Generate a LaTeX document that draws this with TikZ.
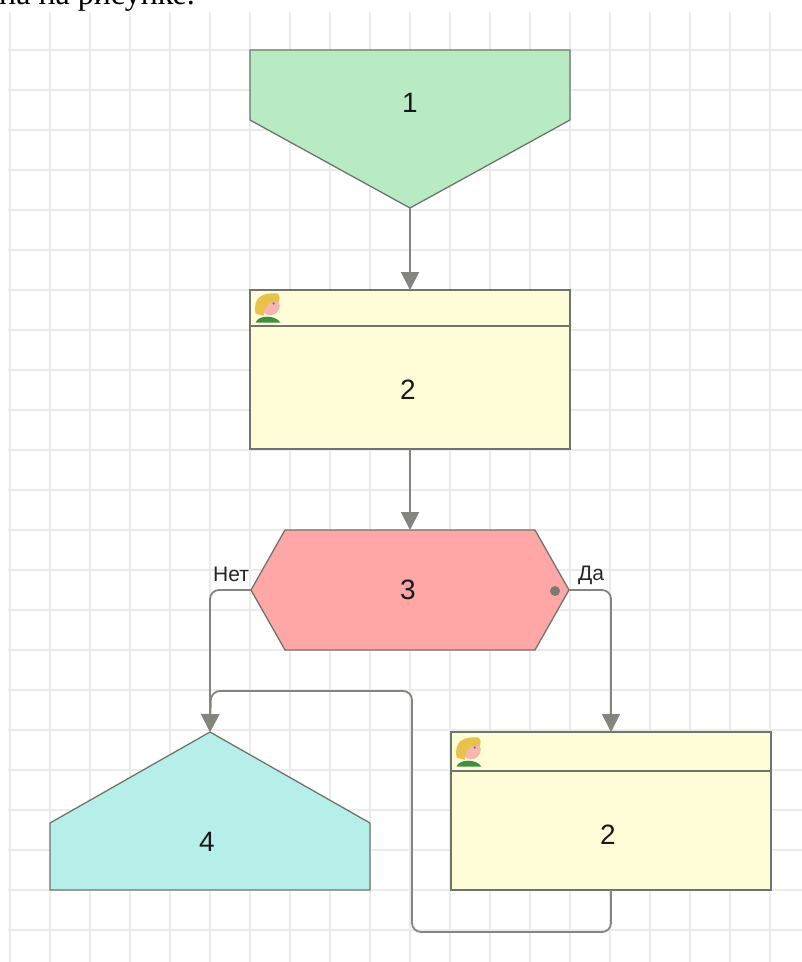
\documentclass[tikz,border=0pt]{standalone}
\usepackage{fontspec}
\setmainfont{Liberation Serif}
\newfontfamily\uifont{Liberation Sans}
\usetikzlibrary{arrows.meta}
\definecolor{gridc}{HTML}{EBEBEB}
\definecolor{edgec}{HTML}{858580}
\definecolor{outlinec}{HTML}{6F756C}
\definecolor{greenc}{HTML}{B8EBC4}
\definecolor{yellowc}{HTML}{FFFCD8}
\definecolor{pinkc}{HTML}{FFA6A6}
\definecolor{cyanc}{HTML}{B6EEEA}
\definecolor{hairc}{HTML}{E8C24A}
\definecolor{facec}{HTML}{F7B7B0}
\definecolor{shirtc}{HTML}{3F8F3F}
\tikzset{
  x=1pt,y=-1pt,
  gridline/.style={gridc,line width=1.2pt},
  anchorbox/.style={inner sep=0pt,outer sep=0pt,minimum width=320pt,minimum height=#1},
  shapeline/.style={draw=outlinec,line width=1.3pt,line join=miter},
  numtext/.style={font=\uifont\fontsize{28}{32}\selectfont,text=black!90,inner sep=0pt},
  smalltext/.style={font=\uifont\fontsize{21}{24}\selectfont,text=black!85,inner sep=0pt},
  flow/.style={draw=edgec,line width=1.8pt,rounded corners=9pt},
  flowarrow/.style={flow,-{Triangle[length=18pt,width=18pt,color=edgec]}},
}
\newcommand{\personicon}[2]{%
  \begin{scope}[shift={(#1,#2)},scale=1.12]
    \fill[shirtc] (-11,13) .. controls (-9,6) and (7,6) .. (11,13) -- cycle;
    \fill[facec] (2,-2) circle (8.5);
    \fill[hairc] (-11,5) .. controls (-14,-10) and (-4,-14) .. (8,-13)
       .. controls (11,-12) and (11,-7) .. (9,-5) .. controls (3,-7) and (-3,-4) .. (-4,7) -- cycle;
    \fill[black!55] (5,-4) circle (1.1);
  \end{scope}}
\begin{document}
\begin{tikzpicture}
\useasboundingbox (0,0) rectangle (802,962);
\fill[white] (0,0) rectangle (802,962);
\foreach \gx in {10,50,...,770} \draw[gridline] (\gx,12) -- (\gx,962);
\foreach \gy in {50,90,...,930} \draw[gridline] (8,\gy) -- (802,\gy);
\begin{scope}
  \clip (0,0) rectangle (210,14);
  \node[anchor=base west,inner sep=0pt,font=\fontsize{32}{36}\selectfont] (caption) at (-1,4) {на на рисунке.};
\end{scope}

% boxes (anchors for connectors)
\node[anchorbox=158pt] (n1) at (410,129) {};
\node[anchorbox=159pt,fill=yellowc,shapeline] (n2) at (410,369.5) {};
\node[anchorbox=120pt,minimum width=318pt] (n3) at (410,590) {};
\node[anchorbox=158pt] (n4) at (210,811) {};
\node[anchorbox=158pt,fill=yellowc,shapeline] (n5) at (611,811) {};

\filldraw[fill=greenc,shapeline] (250,50) -- (570,50) -- (570,120) -- (n1.south) -- (250,120) -- cycle;
\draw[shapeline] (250,326) -- (570,326);
\filldraw[fill=pinkc,shapeline] (285,530) -- (535,530) -- (n3.east) -- (535,650) -- (285,650) -- (n3.west) -- cycle;
\filldraw[fill=cyanc,shapeline] (n4.north) -- (370,823) -- (370,890) -- (50,890) -- (50,823) -- cycle;
\draw[shapeline] (451,771) -- (771,771);
\fill[outlinec!90!pinkc] (555,591) circle (5);

\personicon{268}{308}
\personicon{469}{752}

\node[numtext] (t1) at (410,103) {1};
\node[numtext] (t2) at (408,390) {2};
\node[numtext] (t3) at (408,590) {3};
\node[numtext] (t4) at (207,842) {4};
\node[numtext] (t5) at (608,835) {2};
\node[smalltext] (no) at (231,574) {Нет};
\node[smalltext] (yes) at (591,575) {Да};

\draw[flowarrow] (n1.south) -- (n2.north);
\draw[flowarrow] (n2.south) -- (n3.north);
\draw[flowarrow] (n3.west) -- (n4.north |- n3.west) -- (n4.north);
\draw[flowarrow] (n3.east) -- (n5.north |- n3.east) -- (n5.north);
\draw[flowarrow] (n5.south) -- (611,932) -- (412,932) -- (412,691) -- (211,691) -- (n4.north);
\end{tikzpicture}
\end{document}
